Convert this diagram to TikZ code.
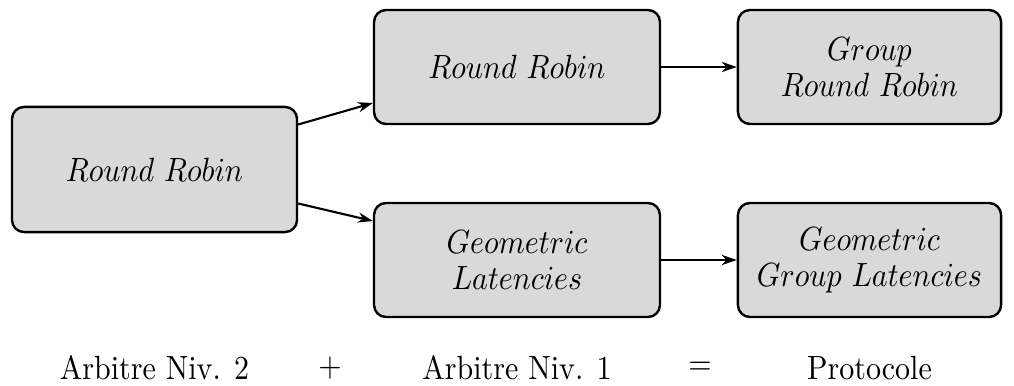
\documentclass[tikz,border=0pt]{standalone}
\usetikzlibrary{arrows.meta}
% lettering is set slightly taller than wide
\newcommand{\tx}[1]{\scalebox{1}[1.12]{#1}}
\begin{document}
\begin{tikzpicture}[x=0.3333pt,y=-0.3333pt,
  blk/.style={draw=black, fill=black!15, rounded corners=4pt, line width=0.8pt,
    align=center, inner sep=0pt},
  conn/.style={-{Stealth[length=5pt,width=3.4pt]}, line width=0.7pt},
  caption/.style={inner sep=0pt}]
  \useasboundingbox (0,0) rectangle (1014,385);
  % blocks
  \node[blk, minimum width=95pt, minimum height=41.7pt] (rr2) at (154.5,169.5) {\tx{$Round\ Robin$}};
  \node[blk, minimum width=95.3pt, minimum height=38pt] (rr1) at (517,67) {\tx{$Round\ Robin$}};
  \node[blk, minimum width=95.3pt, minimum height=38pt] (gl1) at (517,260) {\tx{$Geometric$}\\\tx{$Latencies$}};
  \node[blk, minimum width=87.7pt, minimum height=38pt] (grr) at (869.5,67) {\tx{$Group$}\\\tx{$Round\ Robin$}};
  \node[blk, minimum width=87.7pt, minimum height=38pt] (ggl) at (869.5,260) {\tx{$Geometric$}\\\tx{$Group\ Latencies$}};
  % connector end points on the block borders
  \path (rr2.east) ++(0,-45) coordinate (s1);
  \path (rr2.east) ++(0,34) coordinate (s2);
  \path (rr1.west) ++(0,36) coordinate (e1);
  \path (gl1.west) ++(0,-39) coordinate (e2);
  \draw[conn] (s1) -- (e1);
  \draw[conn] (s2) -- (e2);
  \draw[conn] (rr1) -- (grr);
  \draw[conn] (gl1) -- (ggl);
  % captions
  \node[caption] (c2) at (154.5,368) {\tx{Arbitre Niv. 2}};
  \node[caption] (plus) at (330,368) {\tx{$+$}};
  \node[caption] (c1) at (517,368) {\tx{Arbitre Niv. 1}};
  \node[caption] (eq) at (700,368) {\tx{$=$}};
  \node[caption] (pr) at (869.5,368) {\tx{Protocole}};
\end{tikzpicture}
\end{document}
